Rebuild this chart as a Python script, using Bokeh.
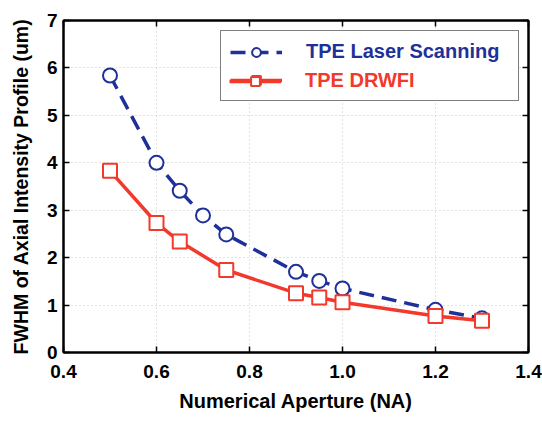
from bokeh.plotting import figure
from bokeh.models import Legend, LegendItem, LinearAxis, Range1d, NumeralTickFormatter, FixedTicker
from bokeh.embed import file_html
from bokeh.resources import INLINE

# ---- data ----
na_scan = [0.5, 0.6, 0.65, 0.7, 0.75, 0.9, 0.95, 1.0, 1.2, 1.3]
fwhm_scan = [5.84, 4.00, 3.41, 2.89, 2.49, 1.70, 1.51, 1.35, 0.90, 0.72]
na_drwfi = [0.5, 0.6, 0.65, 0.75, 0.9, 0.95, 1.0, 1.2, 1.3]
fwhm_drwfi = [3.83, 2.73, 2.34, 1.74, 1.25, 1.16, 1.06, 0.77, 0.67]
x_ticks = [0.4, 0.6, 0.8, 1.0, 1.2, 1.4]
y_ticks = [0, 1, 2, 3, 4, 5, 6, 7]
series_names = ["TPE Laser Scanning", "TPE DRWFI"]
x_title = "Numerical Aperture (NA)"
y_title = "FWHM of Axial Intensity Profile (um)"

BLUE = "#1f3199"
RED = "#f2392b"
FONT = "Liberation Sans"

p = figure(width=542, height=421, x_range=Range1d(0.4, 1.4), y_range=Range1d(0, 7),
           output_backend="svg", toolbar_location=None,
           min_border_left=63, min_border_right=14, min_border_top=20, min_border_bottom=69)
p.background_fill_color = "white"
p.border_fill_color = "white"
p.outline_line_color = "black"
p.outline_line_width = 2

for ax in (p.xaxis[0], p.yaxis[0]):
    ax.major_tick_in = 6
    ax.major_tick_out = 0
    ax.minor_tick_in = 0
    ax.minor_tick_out = 0
    ax.major_tick_line_width = 1.5
    ax.axis_line_width = 2
    ax.major_label_text_font = FONT
    ax.major_label_text_font_style = "bold"
    ax.major_label_text_font_size = "19px"
    ax.major_label_text_color = "black"
    ax.axis_label_text_font = FONT
    ax.axis_label_text_font_style = "bold"
    ax.axis_label_text_color = "black"

p.xaxis[0].ticker = FixedTicker(ticks=x_ticks)
p.xaxis[0].formatter = NumeralTickFormatter(format="0.0")
p.xaxis[0].axis_label = x_title
p.xaxis[0].axis_label_text_font_size = "20px"
p.xaxis[0].major_label_standoff = 12
p.xaxis[0].axis_label_standoff = 9
p.yaxis[0].ticker = FixedTicker(ticks=y_ticks)
p.yaxis[0].axis_label = y_title
p.yaxis[0].axis_label_text_font_size = "19.5px"
p.yaxis[0].major_label_standoff = 6
p.yaxis[0].axis_label_standoff = 12

# unlabeled inward ticks on the right and top edges (minor ticks only, no labels)
for loc, ticks in (("right", y_ticks), ("above", x_ticks)):
    ax = LinearAxis(ticker=FixedTicker(ticks=[], minor_ticks=ticks), major_tick_in=0,
                    major_tick_out=0, minor_tick_in=6, minor_tick_out=0,
                    minor_tick_line_width=1.5, minor_tick_line_color="black",
                    axis_line_width=2)
    p.add_layout(ax, loc)

p.xgrid.ticker = FixedTicker(ticks=x_ticks)
p.ygrid.ticker = FixedTicker(ticks=y_ticks)
p.grid.grid_line_color = "#c4c4c4"
p.grid.grid_line_dash = "1 3"
p.grid.grid_line_width = 1

r1l = p.line(na_scan, fwhm_scan, line_color=BLUE, line_width=3.5, line_dash="15 8")
r1p = p.scatter(na_scan, fwhm_scan, marker="circle", size=14, fill_color="white",
                line_color=BLUE, line_width=2)
r2l = p.line(na_drwfi, fwhm_drwfi, line_color=RED, line_width=3.5)
r2p = p.scatter(na_drwfi, fwhm_drwfi, marker="square", size=14, fill_color="white",
                line_color=RED, line_width=2)

common = dict(glyph_width=52, glyph_height=22, label_height=22, label_standoff=24,
              label_width=203, margin=0, spacing=6,
              label_text_font=FONT, label_text_font_style="bold",
              label_text_font_size="20px", label_text_baseline="middle")

PAD = 9
LX, LY = 157, 251
# framed legend: blue entry with its text, red entry's glyph (its red text is drawn by leg2)
leg1 = Legend(items=[LegendItem(label=series_names[0], renderers=[r1l, r1p]),
                     LegendItem(label="", renderers=[r2l, r2p])],
              location=(LX, LY), padding=PAD, border_line_color="black",
              border_line_width=1.5, background_fill_color="white",
              background_fill_alpha=1.0, label_text_color=BLUE, **common)
# borderless legend has no padding, so shift it by the padding to sit on row 2
leg2 = Legend(items=[LegendItem(label=series_names[1], renderers=[r2l, r2p])],
              location=(LX + PAD, LY + PAD), padding=PAD, border_line_color=None,
              background_fill_alpha=0.0, label_text_color=RED, **common)
p.add_layout(leg1, "center")
p.add_layout(leg2, "center")

open("out.html", "w").write(file_html(p, INLINE))
